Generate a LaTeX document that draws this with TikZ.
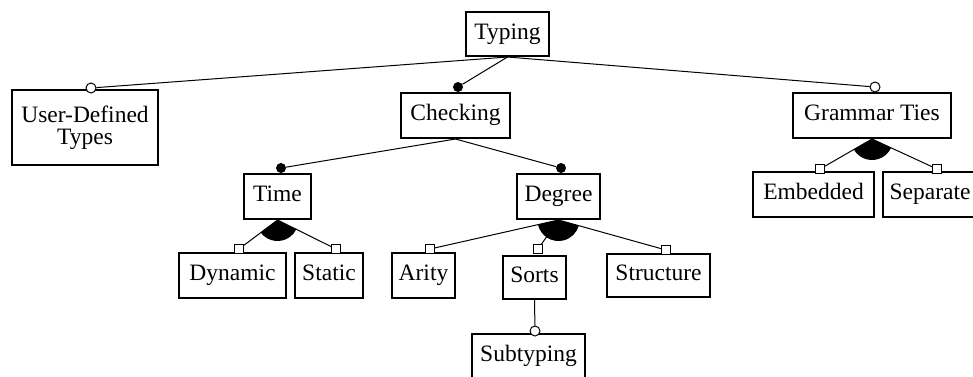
\documentclass[tikz,border=0pt]{standalone}
\usepackage{fontspec}
\setmainfont{Liberation Serif}
\usetikzlibrary{calc}
\begin{document}
\begin{tikzpicture}[x=1pt,y=-1pt,
  featbase/.style={draw, line width=2pt, fill=white, inner sep=0pt,
    font=\fontsize{23.5}{22}\selectfont},
  feat/.style={featbase, text height=16pt, text depth=6pt, minimum height=45pt},
  conn/.style={line width=1pt},
  optm/.style={circle, draw, line width=1pt, fill=white, minimum size=10pt, inner sep=0pt},
  mandm/.style={circle, fill=black, minimum size=10pt, inner sep=0pt},
  grpm/.style={rectangle, draw, line width=1pt, fill=white, minimum size=8.5pt, inner sep=0pt}]
\useasboundingbox (0,0) rectangle (973,376);

% feature boxes
\node[feat, minimum width=83pt, minimum height=44pt] (typing) at (507.5,34) {Typing};
\node[featbase, minimum width=146pt, minimum height=75pt, align=center] (udt) at (85,127.5) {User-Defined\\Types};
\node[feat, minimum width=109pt] (checking) at (455.5,115.5) {Checking};
\node[feat, minimum width=158pt] (gt) at (872,115.5) {Grammar Ties};
\node[feat, minimum width=67pt] (time) at (277.5,196.5) {Time};
\node[feat, minimum width=83pt] (degree) at (558.5,196.5) {Degree};
\node[feat, minimum width=107pt] (dynamic) at (232.5,275.5) {Dynamic};
\node[feat, minimum width=68pt] (static) at (329,275.5) {Static};
\node[feat, minimum width=63pt] (arity) at (423.5,275.5) {Arity};
\node[feat, minimum width=63pt, minimum height=43pt] (sorts) at (534.5,277.5) {Sorts};
\node[feat, minimum width=103pt, minimum height=43pt] (structure) at (658.5,275.5) {Structure};
\node[feat, minimum width=113pt] (subtyping) at (528.5,356.5) {Subtyping};
\node[feat, minimum width=121pt] (embedded) at (813.5,194.5) {Embedded};
\node[feat, minimum width=94pt] (separate) at (930,194.5) {Separate};

% group sectors
\fill let \p1=($(dynamic.north)+(6.5,-3)-(time.south)$), \p2=($(static.north)+(7,-3)-(time.south)$),
  \n1={atan2(\y1,\x1)}, \n2={atan2(\y2,\x2)} in
  (time.south) -- ++(\n1:21pt) arc[start angle=\n1, end angle=\n2, radius=21pt] -- cycle;
\fill let \p1=($(arity.north)+(6.5,-3)-(degree.south)$), \p2=($(structure.north)+(7.5,-3)-(degree.south)$),
  \n1={atan2(\y1,\x1)}, \n2={atan2(\y2,\x2)} in
  (degree.south) -- ++(\n1:21pt) arc[start angle=\n1, end angle=\n2, radius=21pt] -- cycle;
\fill let \p1=($(embedded.north)+(6.5,-2)-(gt.south)$), \p2=($(separate.north)+(7,-2)-(gt.south)$),
  \n1={atan2(\y1,\x1)}, \n2={atan2(\y2,\x2)} in
  (gt.south) -- ++(\n1:21pt) arc[start angle=\n1, end angle=\n2, radius=21pt] -- cycle;

% markers
\node[optm]  (m-udt) at ($(udt.north)+(6,-1)$) {};
\node[mandm] (m-chk) at ($(checking.north)+(2.5,-5)$) {};
\node[optm]  (m-gt)  at ($(gt.north)+(3,-5)$) {};
\node[mandm] (m-time) at ($(time.north)+(3.5,-5)$) {};
\node[mandm] (m-deg) at ($(degree.north)+(2.5,-5)$) {};
\node[grpm]  (m-dyn) at ($(dynamic.north)+(6.5,-3)$) {};
\node[grpm]  (m-sta) at ($(static.north)+(7,-3)$) {};
\node[grpm]  (m-ari) at ($(arity.north)+(6.5,-3)$) {};
\node[grpm]  (m-sor) at ($(sorts.north)+(3.5,-6)$) {};
\node[grpm]  (m-str) at ($(structure.north)+(7.5,-3)$) {};
\node[grpm]  (m-emb) at ($(embedded.north)+(6.5,-2)$) {};
\node[grpm]  (m-sep) at ($(separate.north)+(7,-2)$) {};
\node[optm]  (m-sub) at ($(subtyping.north)+(6.5,-2)$) {};

% connectors
\draw[conn] (typing.south) -- (m-udt);
\draw[conn] (typing.south) -- (m-chk);
\draw[conn] (typing.south) -- (m-gt);
\draw[conn] (checking.south) -- (m-time);
\draw[conn] (checking.south) -- (m-deg);
\draw[conn] (time.south) -- (m-dyn);
\draw[conn] (time.south) -- (m-sta);
\draw[conn] (degree.south) -- (m-ari);
\draw[conn] (degree.south) -- (m-sor);
\draw[conn] (degree.south) -- (m-str);
\draw[conn] (gt.south) -- (m-emb);
\draw[conn] (gt.south) -- (m-sep);
\draw[conn] (sorts.south) -- (m-sub);
\end{tikzpicture}
\end{document}
